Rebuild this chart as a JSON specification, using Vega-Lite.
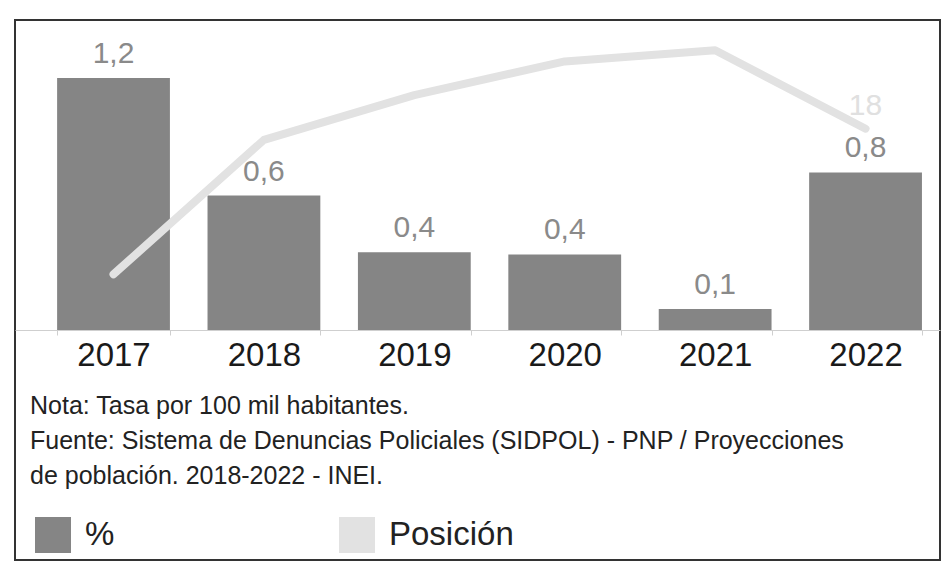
{
  "$schema": "https://vega.github.io/schema/vega-lite/v6.json",
  "autosize": {"type": "none"},
  "padding": {"left": 15, "top": 20, "right": 2, "bottom": 13},
  "width": 925,
  "height": 540,
  "background": "white",
  "config": {"view": {"stroke": "#333333", "strokeWidth": 2}, "font": "Liberation Sans"},
  "title": {
    "text": ["Nota: Tasa por 100 mil habitantes.", "Fuente: Sistema de Denuncias Policiales (SIDPOL) - PNP / Proyecciones", "de población. 2018-2022 - INEI."],
    "orient": "bottom", "anchor": "start", "offset": -166, "dx": 15,
    "fontSize": 25, "fontWeight": "normal", "color": "#222222", "lineHeight": 35, "font": "Liberation Sans"
  },
  "data": {"values": [
    {"anio": "2017", "tasa": 1.2, "etiqueta": "1,2", "posicion": 5},
    {"anio": "2018", "tasa": 0.64, "etiqueta": "0,6", "posicion": 17},
    {"anio": "2019", "tasa": 0.37, "etiqueta": "0,4", "posicion": 21},
    {"anio": "2020", "tasa": 0.36, "etiqueta": "0,4", "posicion": 24},
    {"anio": "2021", "tasa": 0.1, "etiqueta": "0,1", "posicion": 25},
    {"anio": "2022", "tasa": 0.75, "etiqueta": "0,8", "posicion": 18}
  ]},
  "encoding": {
    "x": {
      "field": "anio", "type": "nominal",
      "scale": {"paddingInner": 0.25, "paddingOuter": 0.2, "align": 0.7},
      "axis": {
        "orient": "bottom", "offset": -230, "title": null, "labelAngle": 0,
        "labelFontSize": 33, "labelColor": "#1a1a1a", "labelPadding": 4, "labelFont": "Liberation Sans",
        "domainColor": "#cfcfcf", "tickColor": "#cfcfcf", "tickBand": "extent", "tickSize": 5, "grid": false
      }
    }
  },
  "layer": [
    {
      "mark": {"type": "bar"},
      "encoding": {
        "y": {"field": "tasa", "type": "quantitative", "scale": {"domain": [-1.095, 1.476], "nice": false}, "axis": null},
        "color": {
          "datum": "%", "type": "nominal",
          "scale": {"domain": ["%", "Posición"], "range": ["#858585", "#e2e2e2"]},
          "legend": {
            "title": null, "orient": "none", "legendX": 20, "legendY": 497, "direction": "horizontal",
            "symbolType": "square", "symbolSize": 1296, "labelFontSize": 33, "labelOffset": 14,
            "columnPadding": 224, "labelColor": "#222222", "padding": 0, "symbolStrokeWidth": 0,
            "labelFont": "Liberation Sans",
            "encode": {"symbols": {"update": {"fill": {"signal": "datum.value === '%' ? '#464646' : '#e4e4e4'"}, "opacity": {"value": 1}}}}
          }
        }
      }
    },
    {
      "mark": {"type": "text", "baseline": "bottom", "dy": -9, "fontSize": 30, "color": "#8a8a8a", "font": "Liberation Sans"},
      "encoding": {
        "y": {"field": "tasa", "type": "quantitative", "scale": {"domain": [-1.095, 1.476], "nice": false}, "axis": null},
        "text": {"field": "etiqueta"}
      }
    },
    {
      "mark": {"type": "line", "strokeWidth": 8, "strokeCap": "round", "strokeJoin": "round"},
      "encoding": {
        "y": {"field": "posicion", "type": "quantitative", "scale": {"domain": [-20.5, 27.7], "nice": false, "zero": false}, "axis": null},
        "color": {"datum": "Posición", "type": "nominal"}
      }
    },
    {
      "transform": [{"filter": "datum.anio === '2022'"}],
      "mark": {"type": "text", "baseline": "bottom", "dy": -8, "fontSize": 30, "color": "#e0e0e0", "font": "Liberation Sans"},
      "encoding": {
        "y": {"field": "posicion", "type": "quantitative", "scale": {"domain": [-20.5, 27.7], "nice": false, "zero": false}, "axis": null},
        "text": {"field": "posicion"}
      }
    }
  ],
  "resolve": {"scale": {"y": "independent"}}
}
